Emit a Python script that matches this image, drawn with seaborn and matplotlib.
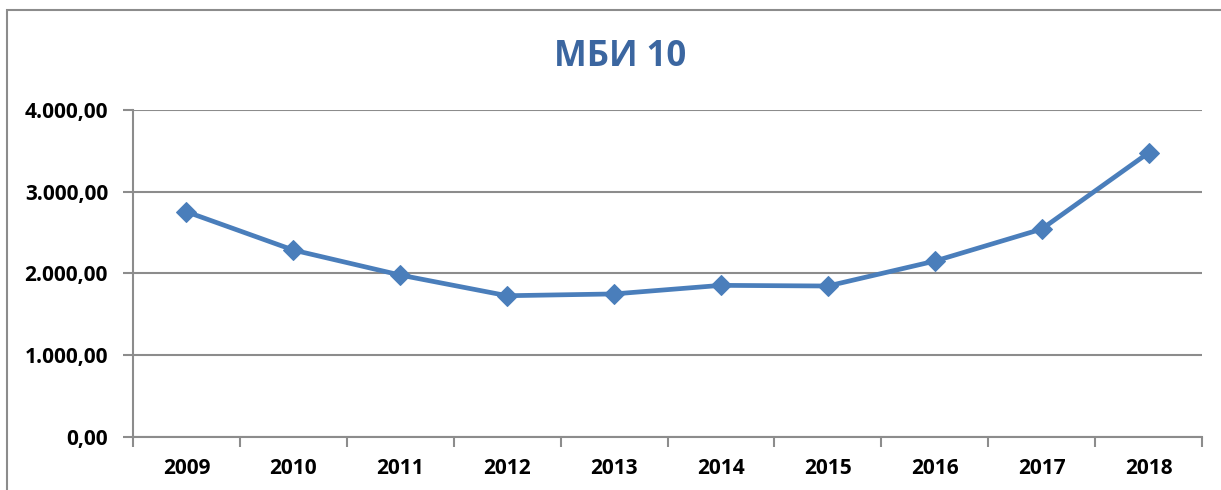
import numpy as np
import pandas as pd
import matplotlib
matplotlib.use('Agg')
import matplotlib.pyplot as plt
import seaborn as sns
from matplotlib.ticker import FuncFormatter, FixedLocator
from matplotlib.patches import Rectangle

# data
years = ['2009', '2010', '2011', '2012', '2013', '2014', '2015', '2016', '2017', '2018']
mbi10 = [2754, 2285, 1979, 1726, 1748, 1853, 1845, 2150, 2542, 3476]
title = 'МБИ 10'

sns.set_theme(style='white')
plt.rcParams['font.family'] = ['Open Sans', 'DejaVu Sans']

df = pd.DataFrame({'pos': np.arange(len(years)), 'value': mbi10})

fig = plt.figure(figsize=(12.21, 4.9), dpi=100)
ax = fig.add_axes([133 / 1221, 1 - 436.7 / 490, (1202 - 133) / 1221, (436.7 - 110) / 490])

grid_col = '#8c8c8c'
sns.lineplot(data=df, x='pos', y='value', ax=ax, color='#4a7ebb', linewidth=3.4,
             marker='D', markersize=10.5, markeredgecolor='#4a7ebb', zorder=3)

ax.set_xlim(-0.5, len(years) - 0.5)
ax.set_ylim(0, 4000)
ax.set_yticks([0, 1000, 2000, 3000, 4000])
ax.yaxis.set_major_formatter(FuncFormatter(
    lambda v, p: f'{v:,.2f}'.replace(',', 'X').replace('.', ',').replace('X', '.')))
ax.grid(axis='y', color=grid_col, linewidth=1.5)
ax.set_axisbelow(True)

ax.set_xticks(df['pos'])
ax.set_xticklabels(years)
ax.xaxis.set_minor_locator(FixedLocator(np.arange(-0.5, len(years), 1.0)))
ax.tick_params(axis='x', which='major', length=0, pad=15, labelsize=15)
ax.tick_params(axis='x', which='minor', length=7, width=1.5, color=grid_col, direction='out', bottom=True)
ax.tick_params(axis='y', length=7, width=1.5, color=grid_col, direction='out', left=True, pad=11, labelsize=15)
for lab in ax.get_xticklabels() + ax.get_yticklabels():
    lab.set_fontweight('bold')
    lab.set_color('black')

ax.set_xlabel('')
ax.set_ylabel('')
for s in ['top', 'right']:
    ax.spines[s].set_visible(False)
for s in ['left', 'bottom']:
    ax.spines[s].set_color(grid_col)
    ax.spines[s].set_linewidth(1.5)

fig.text(620 / 1221, 1 - 56.5 / 490, title, ha='center', va='center',
         fontsize=25, fontweight='bold', color='#3b66a0')

# outer chart frame (right and bottom edges fall outside the picture)
fig.patches.append(Rectangle((7 / 1221, -0.1), 1.2, 1.1 - 10 / 490, transform=fig.transFigure,
                             fill=False, edgecolor=grid_col, linewidth=1.5))

fig.savefig('out.png', dpi=100)
